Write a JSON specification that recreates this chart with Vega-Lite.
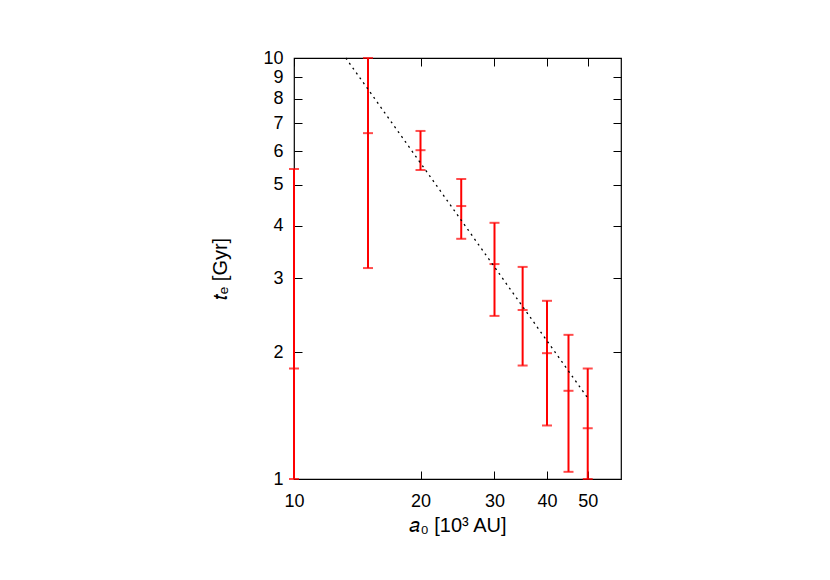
{
  "$schema": "https://vega.github.io/schema/vega-lite/v6.json",
  "autosize": {"type": "none"},
  "padding": {"left": 294, "top": 58, "right": 209, "bottom": 101},
  "width": 327,
  "height": 421,
  "background": "white",
  "config": {
    "view": {"stroke": "black", "strokeWidth": 1.2},
    "font": "Liberation Sans",
    "axis": {
      "labelFont": "Liberation Sans",
      "titleFont": "Liberation Sans",
      "labelFontSize": 18,
      "titleFontSize": 20,
      "titleFontWeight": "normal",
      "labelColor": "black",
      "titleColor": "black",
      "tickColor": "black",
      "domain": false,
      "grid": false,
      "tickSize": -8,
      "tickWidth": 1,
      "labelOverlap": false,
      "labelFlush": false
    }
  },
  "datasets": {
    "pts": [
      {"a": 10, "lo": 1.0, "mid": 1.83, "hi": 5.45},
      {"a": 15, "lo": 3.17, "mid": 6.63, "hi": 10.0},
      {"a": 20, "lo": 5.42, "mid": 6.04, "hi": 6.71},
      {"a": 25, "lo": 3.72, "mid": 4.45, "hi": 5.16},
      {"a": 30, "lo": 2.44, "mid": 3.24, "hi": 4.06},
      {"a": 35, "lo": 1.86, "mid": 2.52, "hi": 3.19},
      {"a": 40, "lo": 1.34, "mid": 1.99, "hi": 2.65},
      {"a": 45, "lo": 1.04, "mid": 1.62, "hi": 2.2},
      {"a": 50, "lo": 1.0, "mid": 1.32, "hi": 1.83}
    ],
    "fit": [
      {"a": 13.28, "t": 10.0},
      {"a": 50, "t": 1.557}
    ]
  },
  "layer": [
    {
      "data": {"name": "pts"},
      "mark": {"type": "rule", "color": "#ff0000", "strokeWidth": 2},
      "encoding": {
        "x": {"field": "a", "type": "quantitative",
              "scale": {"type": "log", "domain": [10, 60], "nice": false},
              "axis": {"values": [10, 20, 30, 40, 50], "title": "𝑎₀ [10³ AU]", "labelPadding": 21, "titlePadding": 5}},
        "y": {"field": "lo", "type": "quantitative",
              "scale": {"type": "log", "domain": [1, 10], "nice": false},
              "axis": {"values": [1, 2, 3, 4, 5, 6, 7, 8, 9, 10], "title": "𝑡ₑ [Gyr]", "labelPadding": 19, "titlePadding": 32}},
        "y2": {"field": "hi"}
      }
    },
    {
      "data": {"name": "pts"},
      "transform": [{"fold": ["lo", "mid", "hi"], "as": ["k", "v"]}],
      "mark": {"type": "tick", "color": "#ff0000", "orient": "horizontal", "size": 10, "thickness": 2},
      "encoding": {
        "x": {"field": "a", "type": "quantitative",
              "scale": {"type": "log", "domain": [10, 60], "nice": false}, "axis": null},
        "y": {"field": "v", "type": "quantitative",
              "scale": {"type": "log", "domain": [1, 10], "nice": false}, "axis": null}
      }
    },
    {
      "data": {"name": "fit"},
      "mark": {"type": "line", "color": "black", "strokeWidth": 1.3, "strokeDash": [2, 4]},
      "encoding": {
        "x": {"field": "a", "type": "quantitative",
              "scale": {"type": "log", "domain": [10, 60], "nice": false},
              "axis": {"orient": "top", "values": [10, 20, 30, 40, 50], "labels": false, "title": null}},
        "y": {"field": "t", "type": "quantitative",
              "scale": {"type": "log", "domain": [1, 10], "nice": false},
              "axis": {"orient": "right", "values": [1, 2, 3, 4, 5, 6, 7, 8, 9, 10], "labels": false, "title": null}}
      }
    }
  ],
  "resolve": {"axis": {"x": "independent", "y": "independent"}}
}
